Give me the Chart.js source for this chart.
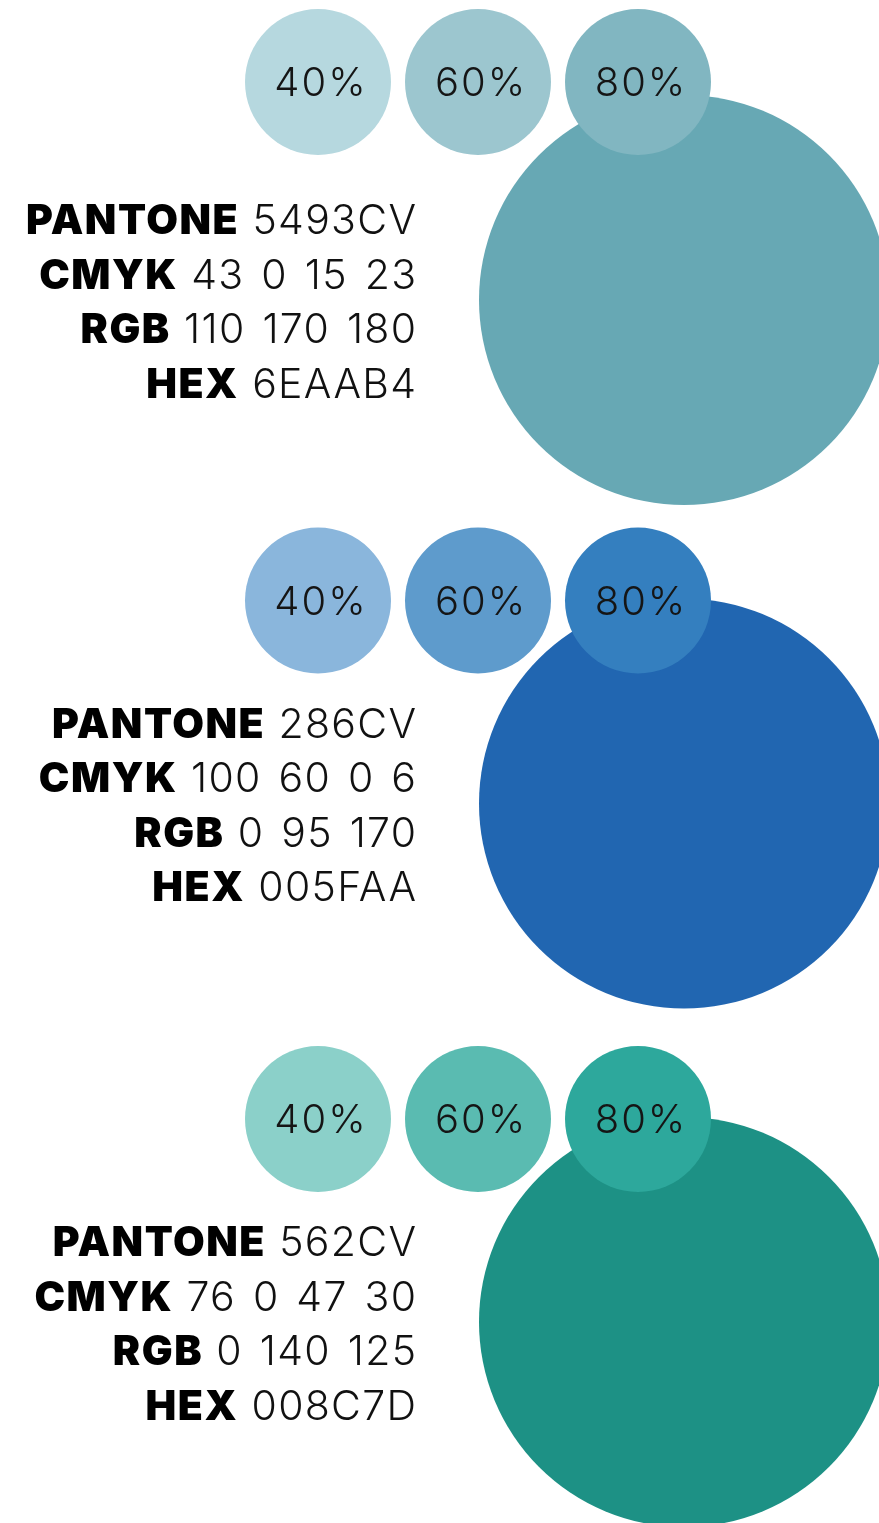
<!DOCTYPE html>
<html>
<head>
<meta charset="utf-8">
<script src="https://cdn.jsdelivr.net/npm/chart.js@4.4.1/dist/chart.umd.min.js"></script>
<style>
  html, body { margin: 0; padding: 0; background: #ffffff; }
  #wrap { width: 879px; height: 1523px; }
</style>
</head>
<body>
<div id="wrap"><canvas id="c" width="879" height="1523"></canvas></div>
<script>
// ---------- DATA ----------
const colourNames = ['PANTONE 5493CV', 'PANTONE 286CV', 'PANTONE 562CV'];
const pantone = ['5493CV', '286CV', '562CV'];
const cmyk = ['43 0 15 23', '100 60 0 6', '76 0 47 30'];
const rgb = ['110 170 180', '0 95 170', '0 140 125'];
const hex = ['6EAAB4', '005FAA', '008C7D'];
const tintLevels = [40, 60, 80];            // percent tints shown in small circles
const fieldLabels = ['PANTONE', 'CMYK', 'RGB', 'HEX'];

// colours as seen in the picture
const baseColours = ['#67A8B4', '#2166B1', '#1D9185'];
const tintColours = [
  ['#B6D8DF', '#8AB6DC', '#8BD0C9'],   // 40%
  ['#9CC6CF', '#5E9BCC', '#5ABBB1'],   // 60%
  ['#81B6C1', '#347FBF', '#2DA89C']    // 80%
];

// ---------- LAYOUT (scale units: x = tint slot, y = colour group) ----------
const LAYOUT = {
  xMin: -318 / 160, xMax: (879 - 318) / 160,
  yMin: -82 / 518.5, yMax: (1523 - 82) / 518.5,
  tintRadius: 73,
  baseRadius: 205,
  baseX: 366 / 160,
  baseDy: 203 / 518.5,
  blockShift: [15 / 518.5, 0, 0],
  textRightX: (416 - 318) / 160,
  textFirstDy: 137 / 518.5,
  textLineDy: 54.6 / 518.5
};

const groups = colourNames.map((_, g) => g);

const tintDatasets = tintLevels.map((lvl, t) => ({
  label: lvl + '%',
  data: groups.map(g => ({ x: t, y: g })),
  backgroundColor: tintColours[t],
  borderWidth: 0,
  radius: LAYOUT.tintRadius,
  hoverRadius: 0
}));
const baseDataset = {
  label: 'base',
  data: groups.map(g => ({ x: LAYOUT.baseX, y: g + LAYOUT.baseDy + LAYOUT.blockShift[g] })),
  backgroundColor: baseColours,
  borderWidth: 0,
  radius: LAYOUT.baseRadius,
  hoverRadius: 0
};

const LABEL_FONT = '900 41px Inter, "Liberation Sans", sans-serif';
const VALUE_FONT = '300 41px Inter, "Liberation Sans", sans-serif';
const PCT_FONT = '300 40px Inter, "Liberation Sans", sans-serif';

const textPlugin = {
  id: 'swatchText',
  afterDatasetsDraw(chart) {
    const ctx = chart.ctx;
    const xs = chart.scales.x, ys = chart.scales.y;
    ctx.save();
    // percent labels on tint circles
    ctx.font = PCT_FONT;
    ctx.letterSpacing = '2px';
    ctx.fillStyle = '#151515';
    ctx.textAlign = 'center';
    ctx.textBaseline = 'middle';
    tintLevels.forEach((lvl, t) => {
      chart.getDatasetMeta(t).data.forEach(el => {
        ctx.fillText(lvl + '%', el.x + 3, el.y + 2);
      });
    });
    // info blocks
    ctx.textBaseline = 'alphabetic';
    ctx.textAlign = 'right';
    groups.forEach(g => {
      const values = [pantone[g], cmyk[g], rgb[g], hex[g]];
      const right = xs.getPixelForValue(LAYOUT.textRightX);
      fieldLabels.forEach((lab, i) => {
        const y = ys.getPixelForValue(g + LAYOUT.blockShift[g] + LAYOUT.textFirstDy + i * LAYOUT.textLineDy);
        ctx.font = VALUE_FONT;
        ctx.letterSpacing = '1.3px';
        ctx.wordSpacing = '4px';
        ctx.fillStyle = '#111111';
        ctx.fillText(values[i], right + 1.3, y);
        const vw = ctx.measureText(values[i]).width;
        ctx.font = LABEL_FONT;
        ctx.letterSpacing = '1.5px';
        ctx.wordSpacing = '0px';
        ctx.fillStyle = '#000000';
        ctx.fillText(lab, right - vw - 12, y);
      });
    });
    ctx.restore();
  }
};

function build() {
  new Chart(document.getElementById('c'), {
    type: 'bubble',
    data: { datasets: [...tintDatasets, baseDataset] },
    options: {
      responsive: false,
      animation: false,
      events: [],
      layout: { padding: 0, autoPadding: false },
      plugins: { legend: { display: false }, tooltip: { enabled: false } },
      scales: {
        x: { type: 'linear', display: false, min: LAYOUT.xMin, max: LAYOUT.xMax },
        y: { type: 'linear', display: false, reverse: true, min: LAYOUT.yMin, max: LAYOUT.yMax }
      }
    },
    plugins: [textPlugin]
  });
}

Promise.all([
  document.fonts.load(LABEL_FONT),
  document.fonts.load(VALUE_FONT),
  document.fonts.load(PCT_FONT)
]).then(build, build);
</script>
</body>
</html>
